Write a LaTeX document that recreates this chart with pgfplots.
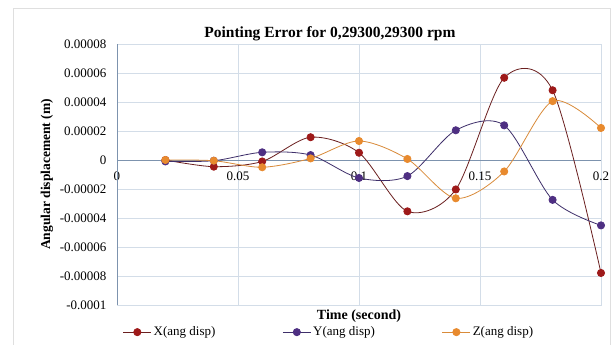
\documentclass[border=0pt]{standalone}
\usepackage{fontspec}
\setmainfont{Liberation Serif}
\usepackage{pgfplots}
\pgfplotsset{compat=1.18}
\definecolor{cx}{HTML}{9E1A1A}
\definecolor{cxl}{HTML}{6B1F1F}
\definecolor{cy}{HTML}{4E2F82}
\definecolor{cyl}{HTML}{3E2F6A}
\definecolor{cz}{HTML}{E88A2E}
\definecolor{czl}{HTML}{D98B3A}
\definecolor{gridc}{HTML}{D3DDE8}
\definecolor{zeroc}{HTML}{7D93AE}
\begin{document}
\begin{tikzpicture}[x=1pt,y=1pt]
\useasboundingbox (0,0) rectangle (613,345);
\fill[white] (0,0) rectangle (613,345);
\draw[gray!25] (13,-2) -- (13,337) -- (610,337) -- (610,-2);
\begin{axis}[
  at={(117pt,40pt)}, anchor=south west, scale only axis,
  width=484pt, height=261pt,
  xmin=0, xmax=0.2, ymin=-0.0001, ymax=0.00008,
  xtick={0,0.05,0.1,0.15,0.2}, xticklabels={0,0.05,0.1,0.15,0.2},
  ytick={-0.0001,-0.00008,-0.00006,-0.00004,-0.00002,0,0.00002,0.00004,0.00006,0.00008},
  yticklabels={-0.0001,-0.00008,-0.00006,-0.00004,-0.00002,0,0.00002,0.00004,0.00006,0.00008},
  scaled ticks=false,
  grid=major, major grid style={gridc, line width=0.8pt},
  axis line style={gridc, line width=0.8pt},
  tick style={draw=none},
  xticklabel style={yshift=137pt, font=\fontsize{13}{13}\selectfont},
  yticklabel style={xshift=-7pt, font=\fontsize{13}{13}\selectfont},
  xlabel={\textbf{Time (second)}},
  xlabel style={at={(axis description cs:0.5,0)}, anchor=north, yshift=-1pt, font=\fontsize{14}{14}\selectfont},
  ylabel={\textbf{Angular displacement (m)}},
  ylabel style={at={(axis description cs:-0.1446,0.5)}, anchor=center, font=\fontsize{13.5}{13.5}\selectfont},
  title={\textbf{Pointing Error for 0,29300,29300 rpm}},
  title style={at={(axis description cs:0.44,1.016)}, anchor=center, font=\fontsize{15.5}{15.5}\selectfont},
  legend columns=3,
  legend style={at={(axis description cs:0.438,-0.104)}, anchor=center, draw=none, fill=none,
    font=\fontsize{13}{13}\selectfont, /tikz/every even column/.append style={column sep=65pt}},
  legend image code/.code={\draw[mark repeat=2,mark phase=2,#1] plot coordinates {(0pt,0pt)(14pt,0pt)(28pt,0pt)};},
  every axis plot/.append style={smooth, tension=0.5, line width=0.8pt, mark=*, mark size=3.6pt},
  clip=false,
]
\draw[zeroc, line width=0.9pt] (axis cs:0,0) -- (axis cs:0.2,0);
\draw[zeroc, line width=0.9pt] (axis cs:0,-0.0001) -- (axis cs:0,0.00008);
\addplot[cxl, mark options={fill=cx, draw=cx}] table {
x y
0.02 0
0.04 -0.0000046
0.06 -0.000001
0.08 0.0000157
0.1 0.000005
0.12 -0.0000354
0.14 -0.0000203
0.16 0.0000567
0.18 0.0000481
0.2 -0.0000779
};
\addlegendentry{X(ang disp)}
\addplot[cyl, mark options={fill=cy, draw=cy}] table {
x y
0.02 -0.000001
0.04 -0.0000005
0.06 0.0000053
0.08 0.0000034
0.1 -0.0000124
0.12 -0.0000111
0.14 0.0000205
0.16 0.0000239
0.18 -0.0000275
0.2 -0.0000451
};
\addlegendentry{Y(ang disp)}
\addplot[czl, mark options={fill=cz, draw=cz}] table {
x y
0.02 0
0.04 -0.0000005
0.06 -0.000005
0.08 0.0000011
0.1 0.0000131
0.12 0.0000007
0.14 -0.0000264
0.16 -0.0000079
0.18 0.0000406
0.2 0.0000221
};
\addlegendentry{Z(ang disp)}
\end{axis}
\end{tikzpicture}
\end{document}
